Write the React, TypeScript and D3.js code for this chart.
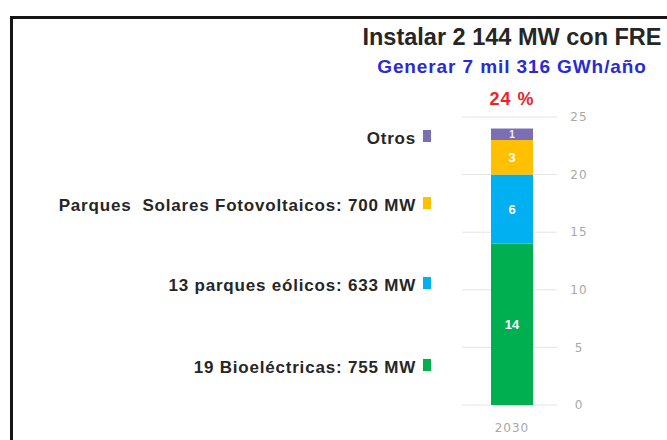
import * as d3 from 'd3';

// Capacity to install by 2030 (hundreds of MW shown as stacked units)
const years = ['2030'];
const sources = ['Bioeléctricas', 'Eólicos', 'Solares', 'Otros'];
const values2030 = [14, 6, 3, 1];
const sourceColors = ['#00b050', '#00b0f0', '#ffc000', '#7b6fb3'];
const legendLabels = [
  '19 Bioeléctricas: 755 MW',
  '13 parques eólicos: 633 MW',
  'Parques  Solares Fotovoltaicos: 700 MW',
  'Otros',
];
const yTicks = [0, 5, 10, 15, 20, 25];
const title = 'Instalar 2 144 MW con FRE';
const subtitle = 'Generar 7 mil 316 GWh/año';
const shareLabel = '24 %';

// legend rows sit at fixed heights in the original slide
const legendY = [367, 285, 205, 138];

const W = 667;
const H = 440;

export default function App() {
  const row: Record<string, number | string> = { year: years[0] };
  sources.forEach((s, i) => (row[s] = values2030[i]));
  const stacked = d3.stack<any>().keys(sources)([row]);

  const x = d3.scaleBand().domain(years).range([470, 554]).paddingInner(0.5).paddingOuter(0.25);
  const y = d3.scaleLinear().domain([0, 25]).range([405, 117]);
  const cx = (x(years[0]) ?? 0) + x.bandwidth() / 2;

  return (
    <svg
      width={W}
      height={H}
      viewBox={`0 0 ${W} ${H}`}
      style={{ position: 'absolute', left: 0, top: 0, background: '#fff' }}
      fontFamily="'Liberation Sans', Arial, sans-serif"
    >
      <rect x={0} y={0} width={W} height={H} fill="#fff" />
      <rect x={11.5} y={17.5} width={720} height={500} fill="none" stroke="#151515" strokeWidth={3} />

      {/* gridlines + tick labels */}
      {yTicks.map((t) => (
        <g key={t}>
          <line x1={462} x2={557} y1={y(t)} y2={y(t)} stroke="#e4e4e4" strokeWidth={1} />
          <text
            x={579}
            y={y(t)}
            dy="0.35em"
            textAnchor="middle"
            fontFamily="'DejaVu Sans', sans-serif"
            fontSize={12}
            letterSpacing={1}
            fill="#a8a8a8"
          >
            {t}
          </text>
        </g>
      ))}

      {/* stacked bar */}
      {stacked.map((s, i) =>
        s.map((d, j) => (
          <g key={`${i}-${j}`}>
            <rect
              x={x(years[j])}
              width={x.bandwidth()}
              y={y(d[1])}
              height={y(d[0]) - y(d[1])}
              fill={sourceColors[i]}
            />
            <text
              x={cx}
              y={(y(d[0]) + y(d[1])) / 2}
              dy="0.35em"
              textAnchor="middle"
              fontSize={i === 3 ? 10 : 13}
              fontWeight="bold"
              fill={i === 3 ? '#f2f0ff' : '#fff'}
            >
              {values2030[i]}
            </text>
          </g>
        ))
      )}

      {/* category label */}
      <text
        x={cx}
        y={428}
        dy="0.35em"
        textAnchor="middle"
        fontFamily="'DejaVu Sans', sans-serif"
        fontSize={12}
        letterSpacing={1}
        fill="#a8a8a8"
      >
        {years[0]}
      </text>

      {/* legend */}
      {legendLabels.map((l, i) => (
        <g key={l}>
          <text
            x={416}
            y={legendY[i]}
            dy="0.35em"
            textAnchor="end"
            fontSize={17}
            letterSpacing={0.8}
            fontWeight="bold"
            fill="#262626"
            style={{ whiteSpace: 'pre' }}
          >
            {l}
          </text>
          <rect x={423} y={legendY[i] - 8} width={8} height={12} fill={sourceColors[i]} />
        </g>
      ))}

      {/* headings */}
      <text x={cx} y={45} textAnchor="middle" fontSize={23.5} fontWeight="bold" fill="#262626">
        {title}
      </text>
      <text x={cx} y={73} textAnchor="middle" fontSize={19} letterSpacing={0.9} fontWeight="bold" fill="#2a2ad6">
        {subtitle}
      </text>
      <text x={cx} y={105} textAnchor="middle" fontSize={18} letterSpacing={1} fontWeight="bold" fill="#e8262a">
        {shareLabel}
      </text>
    </svg>
  );
}
